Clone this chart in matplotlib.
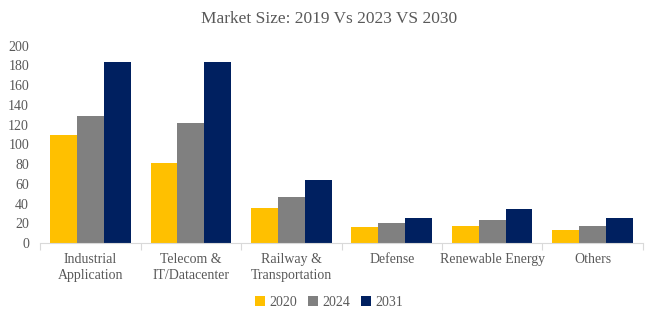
import matplotlib
matplotlib.use("Agg")
import matplotlib.pyplot as plt
import numpy as np

categories = ["Industrial\nApplication", "Telecom &\nIT/Datacenter", "Railway &\nTransportation",
              "Defense", "Renewable Energy", "Others"]
series_names = ["2020", "2024", "2031"]
values_2020 = [109, 81, 36, 16.5, 17.5, 13.5]
values_2024 = [129, 122, 46.5, 20.5, 23.5, 17]
values_2031 = [183.5, 184, 64, 25.5, 34, 25.5]
colors = ["#FFC000", "#808080", "#002060"]
yticks = [0, 20, 40, 60, 80, 100, 120, 140, 160, 180, 200]

plt.rcParams["font.family"] = ["Liberation Serif", "DejaVu Serif"]
text_color = "#595959"

fig = plt.figure(figsize=(6.58, 3.22), dpi=100)
ax = fig.add_axes([0.061, 0.2453, 0.916, 0.6127])

x = np.arange(len(categories))
w = 0.267
for i, (vals, name, c) in enumerate(zip([values_2020, values_2024, values_2031], series_names, colors)):
    ax.bar(x + (i - 1) * w, vals, width=w, color=c, label=name, zorder=2)

ax.set_xlim(-0.5, len(categories) - 0.5)
ax.set_ylim(0, 200)
ax.set_yticks(yticks)
ax.set_yticklabels([str(t) for t in yticks], fontsize=10, color=text_color)
ax.tick_params(axis="y", length=0, pad=8)

ax.set_xticks(x)
ax.set_xticklabels(categories, fontsize=10, color=text_color, linespacing=1.3)
ax.tick_params(axis="x", length=0, pad=7.5)
ax.set_xticks(np.arange(-0.5, len(categories), 1), minor=True)
ax.tick_params(axis="x", which="minor", length=5, color="#D9D9D9", width=0.8)

for s in ["top", "right", "left"]:
    ax.spines[s].set_visible(False)
ax.spines["bottom"].set_color("#D9D9D9")
ax.spines["bottom"].set_linewidth(0.8)

fig.suptitle("Market Size: 2019 Vs 2023 VS 2030", x=0.5, y=0.965, fontsize=12.5, color=text_color)

leg = fig.legend(loc="center", bbox_to_anchor=(0.5, 0.062), ncol=3, frameon=False,
                 fontsize=10, handlelength=0.7, handleheight=0.7, handletextpad=0.3,
                 columnspacing=0.8, labelcolor=text_color)

fig.savefig("out.png", dpi=100)
